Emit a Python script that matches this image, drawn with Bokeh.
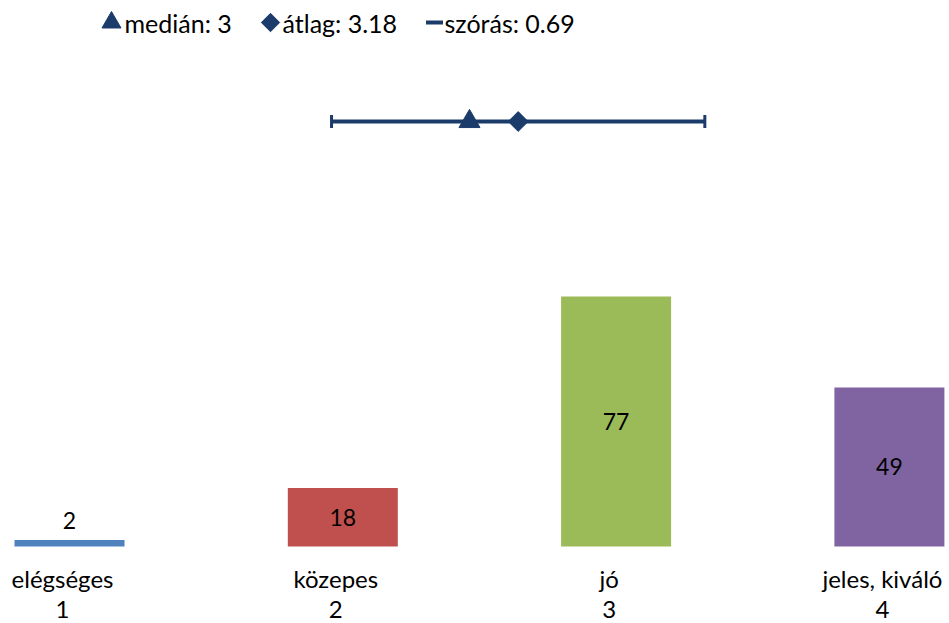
import math
from bokeh.plotting import figure
from bokeh.models import Range1d, ColumnDataSource
from bokeh.core.properties import value
from bokeh.embed import file_html
from bokeh.resources import INLINE

# ---- data ----
categories = ["elégséges", "közepes", "jó", "jeles, kiváló"]
grades = [1, 2, 3, 4]
counts = [2, 18, 77, 49]
bar_colors = ["#4F81BD", "#C0504D", "#9BBB59", "#8064A2"]
median = 3
mean = 3.18
sd = 0.69

NAVY = "#1B3B6A"
FONT = value("Lato")
W, H = 949, 623

p = figure(width=W, height=H, output_backend="svg", toolbar_location=None,
           x_range=Range1d(0.7475, 4.2199), y_range=Range1d(-23.71, 168.15),
           x_axis_location=None, y_axis_location=None, min_border=0,
           background_fill_color="white", border_fill_color="white")
p.outline_line_color = None
p.grid.visible = False
p.extra_x_ranges = {"stats": Range1d(1.2662, 4.7745), "px": Range1d(0, W)}
p.extra_y_ranges = {"stats": Range1d(-502, 121), "px": Range1d(H, 0)}

src = ColumnDataSource(dict(
    x=grades, top=counts, color=bar_colors,
    cat=categories, num=[str(g) for g in grades],
))
p.vbar(x="x", top="top", bottom=0, width=0.4025, fill_color="color",
       line_color=None, source=src)

# value labels: inside bars when tall enough, above otherwise
inside = [i for i, c in enumerate(counts) if c >= 10]
above = [i for i, c in enumerate(counts) if c < 10]
src_in = ColumnDataSource(dict(x=[grades[i] for i in inside],
                               y=[counts[i] / 2 for i in inside],
                               t=[str(counts[i]) for i in inside]))
src_ab = ColumnDataSource(dict(x=[grades[i] for i in above],
                               y=[counts[i] for i in above],
                               t=[str(counts[i]) for i in above]))
p.text(x="x", y="y", text="t", source=src_in, text_font=FONT,
       text_font_size="23px", text_align="center", text_baseline="middle",
       text_color="black")
p.text(x="x", y="y", text="t", source=src_ab, text_font=FONT,
       text_font_size="23px", text_align="center", text_baseline="middle",
       text_color="black", y_offset=-20)

# category labels
p.text(x="x", y=0, text="cat", source=src, text_font=FONT,
       text_font_size="24px", text_align="center", text_baseline="middle",
       text_color="black", x_offset=-7, y_offset=32)
p.text(x="x", y=0, text="num", source=src, text_font=FONT,
       text_font_size="24px", text_align="center", text_baseline="middle",
       text_color="black", x_offset=-7, y_offset=63)

# stats row
p.segment(x0=[mean - sd], y0=[0], x1=[mean + sd], y1=[0],
          x_range_name="stats", y_range_name="stats",
          line_color=NAVY, line_width=4, line_cap="butt")
p.scatter(x=[mean - sd, mean + sd], y=[0, 0], marker="dash", angle=math.pi / 2,
          size=13, line_width=3, line_color=NAVY,
          x_range_name="stats", y_range_name="stats")
p.scatter(x=[median], y=[0], marker="triangle", size=21,
          fill_color=NAVY, line_color=NAVY,
          x_range_name="stats", y_range_name="stats")
p.scatter(x=[mean], y=[0], marker="square", angle=math.pi / 4, size=14,
          fill_color=NAVY, line_color=NAVY,
          x_range_name="stats", y_range_name="stats")

# legend (drawn in pixel layout space)
leg_y = 22
p.scatter(x=[111], y=[leg_y], marker="triangle", size=19,
          fill_color=NAVY, line_color=NAVY, x_range_name="px", y_range_name="px")
p.scatter(x=[270], y=[leg_y], marker="square", angle=math.pi / 4, size=13,
          fill_color=NAVY, line_color=NAVY, x_range_name="px", y_range_name="px")
p.scatter(x=[434], y=[leg_y], marker="dash", size=17, line_width=4,
          line_color=NAVY, x_range_name="px", y_range_name="px")
leg_src = ColumnDataSource(dict(
    x=[124, 282, 444], y=[leg_y] * 3,
    t=[f"medián: {median}", f"átlag: {mean}", f"szórás: {sd}"]))
p.text(x="x", y="y", text="t", source=leg_src, text_font=FONT,
       text_font_size="25px", text_align="left", text_baseline="middle",
       text_color="black", x_range_name="px", y_range_name="px")

open("out.html", "w").write(file_html(p, INLINE))
